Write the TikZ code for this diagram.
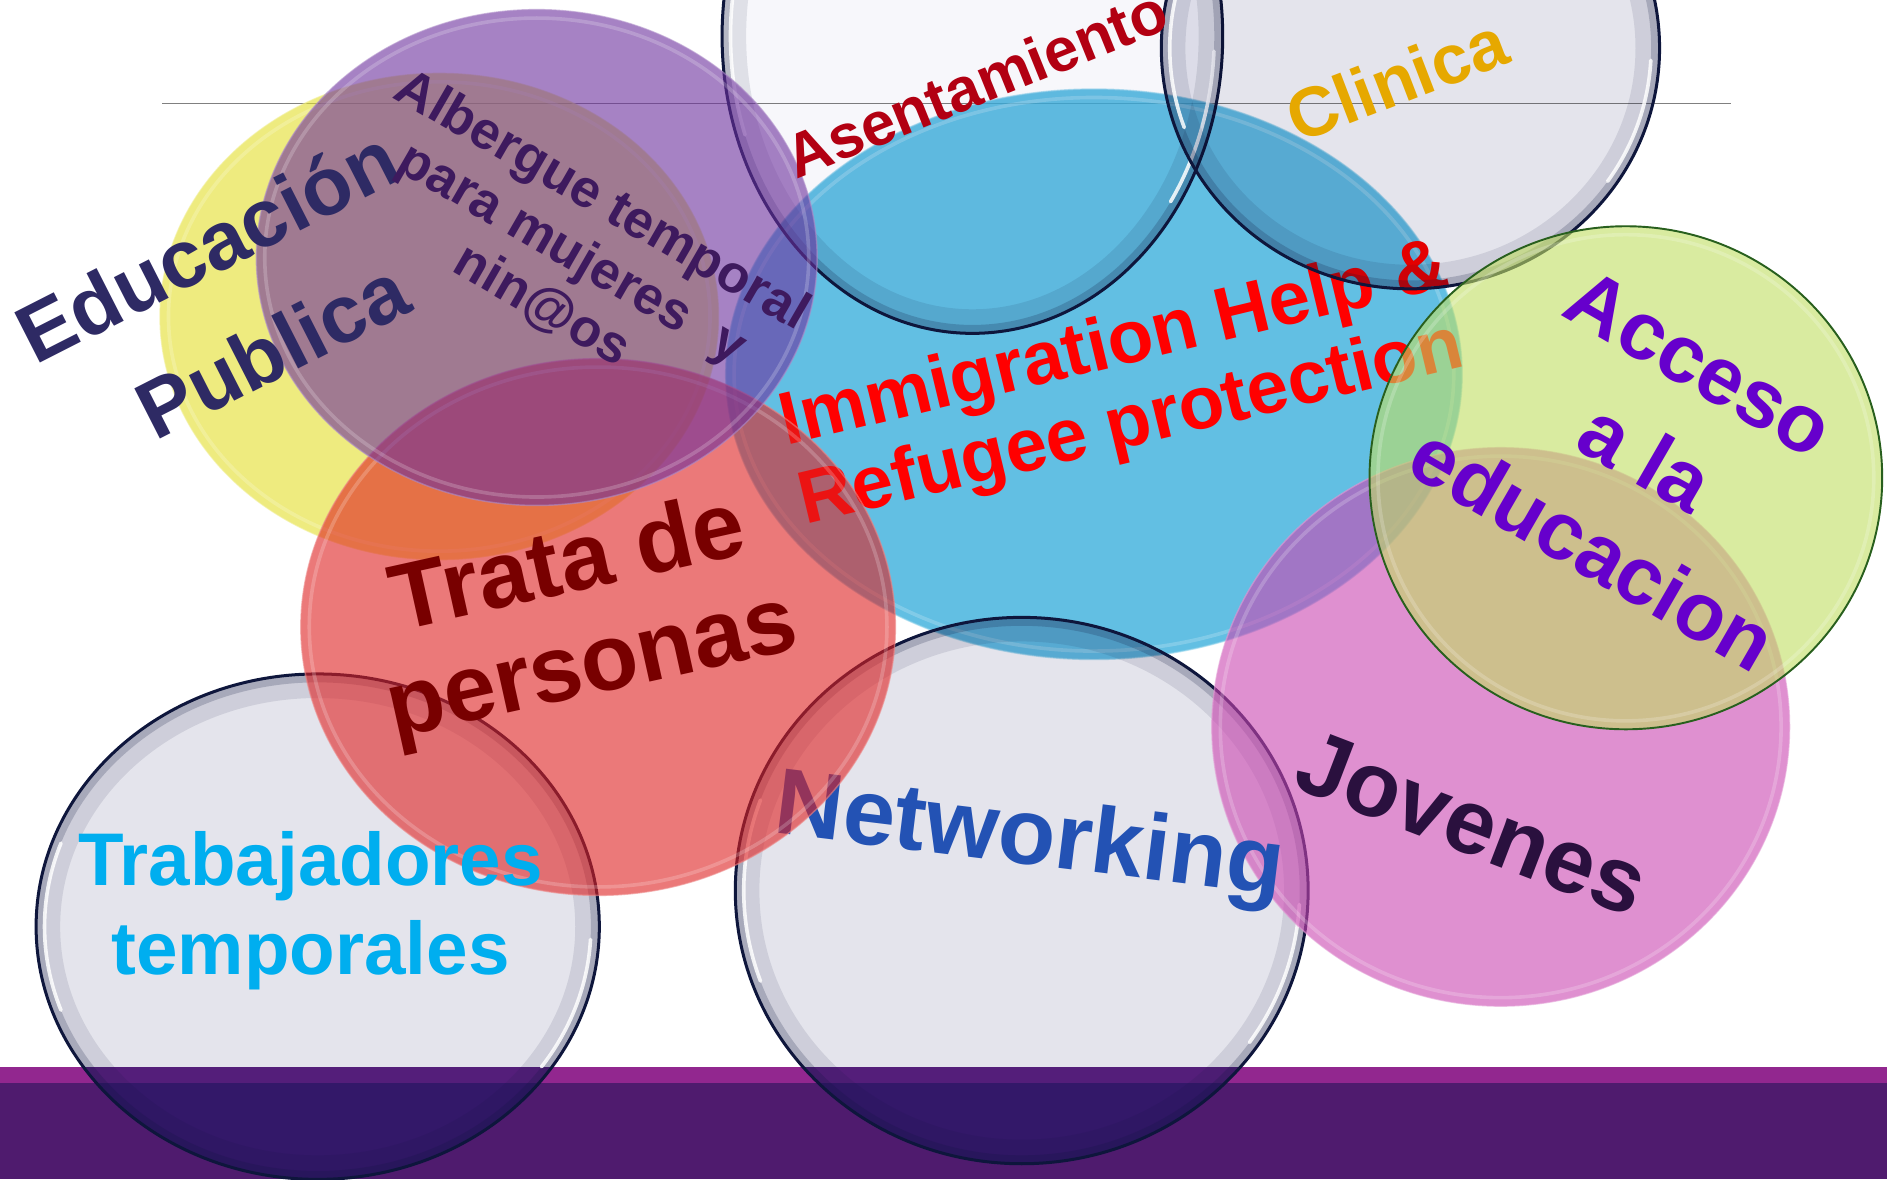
\documentclass[tikz,border=0pt]{standalone}
\usepackage{fontspec}
\setmainfont{Liberation Sans}
\definecolor{lineGray}{RGB}{128,128,128}
\definecolor{bandLight}{RGB}{146,39,143}
\definecolor{bandDark}{RGB}{79,27,110}
\definecolor{bandNavy}{RGB}{28,26,110}
\definecolor{edgeNavy}{RGB}{14,22,60}
\definecolor{bubLight}{RGB}{247,247,251}
\definecolor{bubGray}{RGB}{228,228,236}
\definecolor{yellowC}{RGB}{227,223,43}
\definecolor{purpleC}{RGB}{108,47,157}
\definecolor{redC}{RGB}{223,33,33}
\definecolor{blueC}{RGB}{59,176,221}
\definecolor{pinkC}{RGB}{203,70,177}
\definecolor{accesoC}{RGB}{193,223,97}
\definecolor{accesoEdge}{RGB}{40,95,30}
\definecolor{eduC}{RGB}{46,42,100}
\definecolor{albC}{RGB}{62,26,94}
\definecolor{asenC}{RGB}{178,0,18}
\definecolor{clinC}{RGB}{230,168,0}
\definecolor{immC}{RGB}{255,0,0}
\definecolor{accC}{RGB}{102,0,204}
\definecolor{trataC}{RGB}{120,0,0}
\definecolor{trabC}{RGB}{0,174,239}
\definecolor{netC}{RGB}{35,82,180}
\definecolor{jovC}{RGB}{42,16,62}
\tikzset{
  lbl/.style={inner sep=0pt, anchor=base},
  fs/.style={font=\fontsize{#1}{#1}\selectfont\bfseries},
}
% glass bubble: cx, cy, rx, ry, fill
\newcommand\glassbub[5]{%
  \pgfmathsetmacro\ga{#3-7}\pgfmathsetmacro\gb{#4-7}%
  \fill[#5, blend mode=multiply] (#1,#2) ellipse [x radius=#3pt, y radius=#4pt];
  \begin{scope}
    \clip (#1,#2) ellipse [x radius=#3pt, y radius=#4pt];
    \fill[bandNavy, opacity=0.45] (0,-887) rectangle (1568,-980);
    \draw[edgeNavy, opacity=0.10, line width=40pt] (#1,#2) ellipse [x radius=#3pt, y radius=#4pt];
    \draw[edgeNavy, opacity=0.20, line width=14pt] (#1,#2) ellipse [x radius=#3pt, y radius=#4pt];
  \end{scope}
  \draw[white, opacity=0.85, line width=3pt, line cap=round]
    ([shift={(160:\ga pt and \gb pt)}]#1,#2) arc [start angle=160, end angle=200, x radius=\ga pt, y radius=\gb pt];
  \draw[white, opacity=0.85, line width=3pt, line cap=round]
    ([shift={(-35:\ga pt and \gb pt)}]#1,#2) arc [start angle=-35, end angle=-3, x radius=\ga pt, y radius=\gb pt];
  \draw[edgeNavy, line width=2.5pt] (#1,#2) ellipse [x radius=#3pt, y radius=#4pt];
}
% coloured ellipse: cx, cy, rx, ry, colour, opacity
\newcommand\colell[6]{%
  \pgfmathsetmacro\ia{#3-7}\pgfmathsetmacro\ib{#4-7}%
  \fill[#5, opacity=#6] (#1,#2) ellipse [x radius=#3pt, y radius=#4pt];
  \draw[white, opacity=0.2, line width=3pt] (#1,#2) ellipse [x radius=\ia pt, y radius=\ib pt];
  \draw[#5!55!white, opacity=0.6, line width=1.2pt] (#1,#2) ellipse [x radius=#3pt, y radius=#4pt];
}
\begin{document}
\begin{tikzpicture}[x=1pt,y=1pt]
\useasboundingbox (0,0) rectangle (1568,-980);
\clip (0,0) rectangle (1568,-980);
\fill[white] (0,0) rectangle (1568,-980);
% top rule and bottom band
\coordinate (ruleL) at (135,-86);
\coordinate (ruleR) at (1438,-86);
\draw[lineGray, line width=1.3pt] (ruleL) -- (ruleR);
\fill[bandLight] (0,-887) rectangle (1568,-900);
\fill[bandDark] (0,-900) rectangle (1568,-980);

% blue ellipse and its text
\colell{909}{-311}{306}{237}{blueC}{0.8}
\node[lbl, fs=62, immC, rotate=13.5] (imm1) at (930,-304) {Immigration Help \&};
\node[lbl, fs=62, immC, rotate=13.5] (imm2) at (944,-370) {Refugee protection};

% glass bubbles
\glassbub{808}{-30}{208}{247}{bubLight}
\glassbub{1172}{-40}{207}{200}{bubGray}
\glassbub{264}{-770}{234}{210}{bubGray}
\glassbub{849}{-740}{238}{227}{bubGray}

% pink ellipse
\colell{1247}{-604}{240}{232}{pinkC}{0.6}
\node[lbl, fs=78, netC, rotate=-7] (net) at (853,-718) {Networking};

% yellow, red, purple
\colell{365}{-263}{232}{202}{yellowC}{0.6}
\colell{497}{-521}{247}{223}{redC}{0.6}
\colell{446}{-214}{233}{206}{purpleC}{0.6}

% acceso ellipse
\colell{1351}{-397}{213}{209}{accesoC}{0.6}
\draw[accesoEdge, line width=1.6pt] (1351,-397) ellipse [x radius=213pt, y radius=209pt];

% texts
\node[lbl, fs=68, eduC, rotate=27] (edu1) at (183,-226) {Educación};
\node[lbl, fs=68, eduC, rotate=27] (edu2) at (237,-312) {Publica};

\node[lbl, fs=44, albC, rotate=-30] (alb1) at (494,-178) {Albergue temporal};
\node[lbl, fs=44, albC, rotate=-30] (alb2) at (469,-222) {para mujeres\hspace{0.35em} y};
\node[lbl, fs=44, albC, rotate=-30] (alb3) at (444,-265) {nin@os};

\node[lbl, fs=51, asenC, rotate=22] (asen) at (818,-86) {Asentamiento};
\node[lbl, fs=58, clinC, rotate=21] (clin) at (1168,-85) {Clinica};

\node[lbl, fs=68, accC, rotate=-30] (acc1) at (1401,-322) {Acceso};
\node[lbl, fs=68, accC, rotate=-30] (acc2) at (1356,-400) {a la};
\node[lbl, fs=68, accC, rotate=-30] (acc3) at (1312,-476) {educacion};

\node[lbl, fs=78, trataC, rotate=12.5] (tra1) at (477,-492) {Trata de};
\node[lbl, fs=78, trataC, rotate=12.5] (tra2) at (497,-576) {personas};

\node[lbl, fs=62, trabC] (trab1) at (258,-736) {Trabajadores};
\node[lbl, fs=62, trabC] (trab2) at (258,-810) {temporales};

\node[lbl, fs=76, jovC, rotate=-21] (jov) at (1214,-708) {Jovenes};
\end{tikzpicture}
\end{document}
